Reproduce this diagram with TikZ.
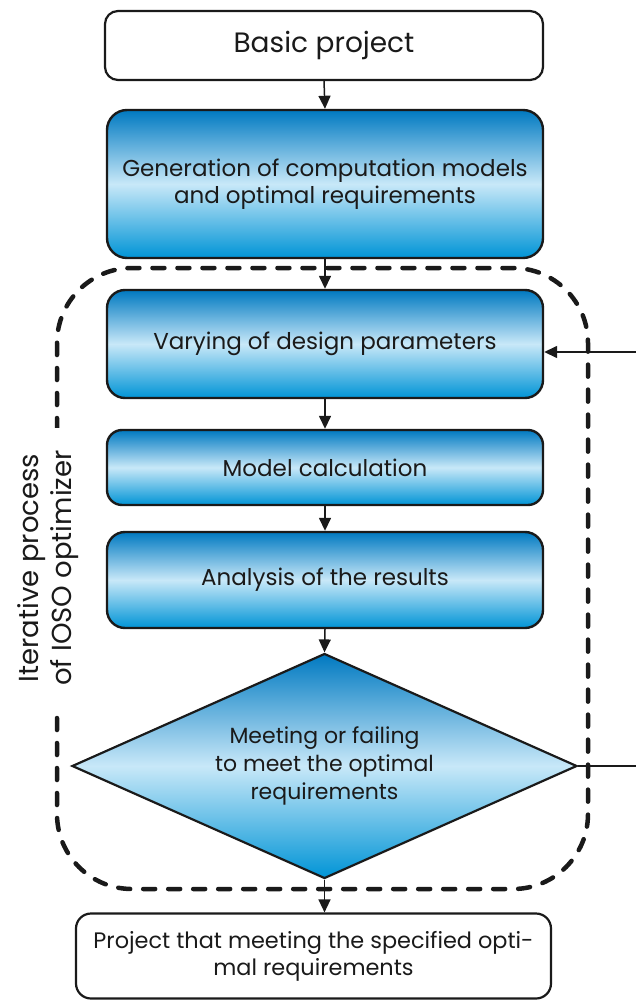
\documentclass[tikz,border=0pt]{standalone}
\usepackage{fontspec}
\setmainfont{Poppins}
\usetikzlibrary{shapes.geometric,arrows.meta}
\definecolor{bdark}{HTML}{0079C1}
\definecolor{bdark2}{HTML}{0094D6}
\definecolor{blight}{HTML}{C8E8F8}
\definecolor{lineblk}{HTML}{1A1A1A}
\tikzset{
  grad/.style={top color=bdark, bottom color=bdark2, middle color=blight},
  bluebox/.style={grad, draw=lineblk, line width=2.4pt, rounded corners=18pt, inner sep=0pt, align=center, font=\fontsize{23}{27}\selectfont, text=lineblk},
  whitebox/.style={fill=white, draw=lineblk, line width=2.2pt, rounded corners=13pt, inner sep=0pt, align=center, text=lineblk},
  arr/.style={draw=lineblk, line width=1.5pt, -{Triangle[length=13pt,width=12pt]}},
  plainline/.style={draw=lineblk, line width=1.5pt},
  loopframe/.style={draw=lineblk, line width=4.5pt, dash pattern=on 12pt off 13pt, line cap=round, rounded corners=75pt},
}
\begin{document}
\begin{tikzpicture}[x=1pt,y=-1pt]
\useasboundingbox (0,0) rectangle (636,1000);
% dashed frame
\draw[loopframe] (57,268) rectangle (588,889);
% label
\node[fill=white, rotate=90, align=center, inner xsep=22pt, inner ysep=2pt, font=\fontsize{27.5}{33}\selectfont, text=lineblk] (lbl) at (48,568) {Iterative process\\of IOSO optimizer};
% boxes
\node[whitebox, minimum width=438pt, minimum height=69pt, font=\fontsize{28}{32}\selectfont] (basic) at (324,45.5) {Basic project};
\node[bluebox, minimum width=436pt, minimum height=148pt, rounded corners=20pt] (gen) at (325,184) {Generation of computation models\\and optimal requirements};
\node[bluebox, minimum width=436pt, minimum height=108pt] (vary) at (325,344) {Varying of design parameters};
\node[bluebox, minimum width=436pt, minimum height=75pt, rounded corners=15pt] (model) at (325,467.5) {Model calculation};
\node[bluebox, minimum width=436pt, minimum height=96pt] (anal) at (325,580) {Analysis of the results};
\node[diamond, grad, draw=lineblk, line width=2.2pt, minimum width=505pt, minimum height=225pt, inner sep=0pt, aspect=2.2, align=center, font=\fontsize{22}{28}\selectfont, text=lineblk] (dec) at (324.5,766) {Meeting or failing\\to meet the optimal\\requirements};
\node[whitebox, minimum width=475pt, minimum height=85pt, font=\fontsize{22.4}{27}\selectfont, rounded corners=15pt] (proj) at (313.5,956) {Project that meeting the specified opti-\\mal requirements};
% connectors
\coordinate (loopout) at (640,766);
\coordinate (loopin) at (640,352);
\draw[arr] (basic.south) -- (gen.north);
\draw[arr] (gen.south) -- (vary.north);
\draw[arr] (vary.south) -- (model.north);
\draw[arr] (model.south) -- (anal.north);
\draw[arr] (anal.south) -- (dec.north);
\draw[arr] (dec.south) -- (dec.south |- proj.north);
\draw[plainline] (dec.east) -- (loopout);
\draw[arr] (loopin) -- (vary.east |- loopin);
\end{tikzpicture}
\end{document}
